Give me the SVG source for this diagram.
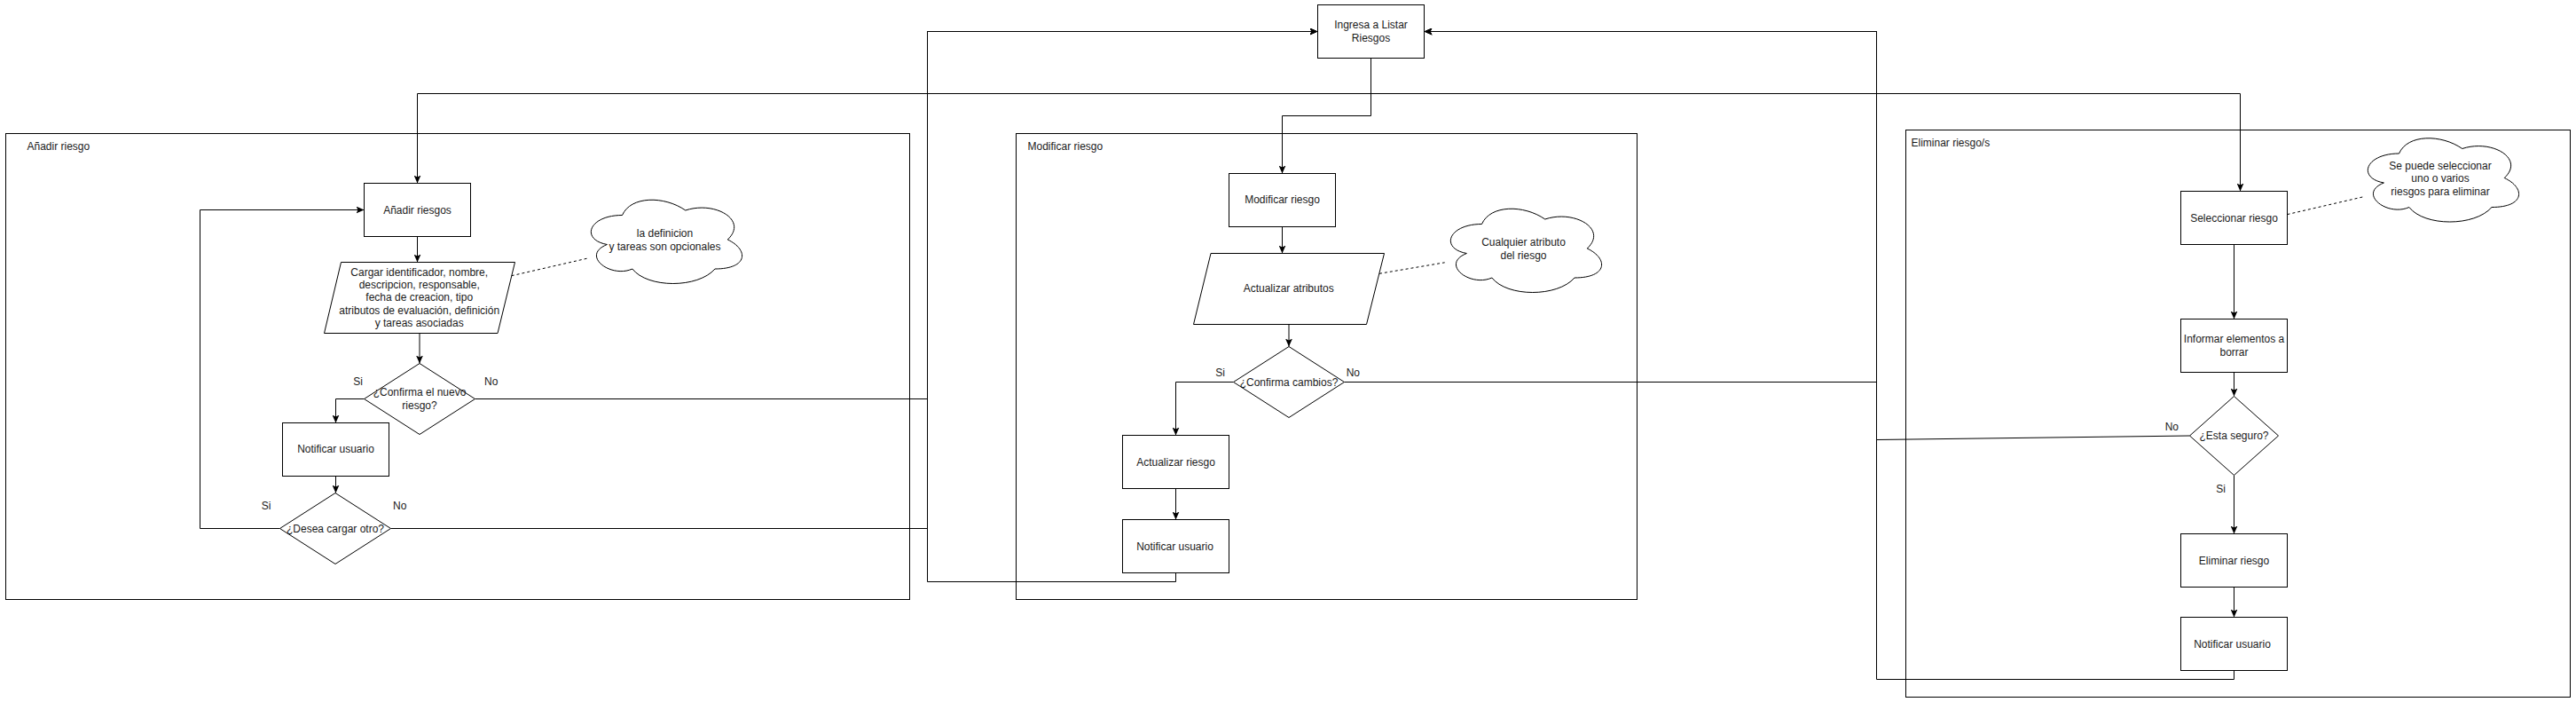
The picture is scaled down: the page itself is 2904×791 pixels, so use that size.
<svg xmlns="http://www.w3.org/2000/svg" xmlns:xlink="http://www.w3.org/1999/xlink" width="2904" height="791" viewBox="0 0 2904 791">
<style>
.box{fill:#fff;stroke:#000;stroke-width:1}
.frame{fill:none;stroke:#000;stroke-width:1}
.cloud{fill:#fff;stroke:#000;stroke-width:1}
.t{font-family:"Liberation Sans",Arial,sans-serif;font-size:12px;fill:#1a1a1a;text-anchor:middle}
.tl{font-family:"Liberation Sans",Arial,sans-serif;font-size:12px;fill:#1a1a1a;text-anchor:start}
.e{fill:none;stroke:#000;stroke-width:1}
.ea{fill:none;stroke:#000;stroke-width:1;marker-end:url(#arr)}
.d{fill:none;stroke:#000;stroke-width:1;stroke-dasharray:3 3}
</style>
<defs>
<marker id="arr" viewBox="0 0 9 8" refX="9" refY="4" markerWidth="9" markerHeight="8" markerUnits="userSpaceOnUse" orient="auto">
<path d="M0,0 L9,4 L0,8 L2,4 Z" fill="#000"/>
</marker>
<path id="cloudshape" d="M47.5,27.5 C9.5,27.5 0,55 30.4,60.5 C0,72.6 34.2,99 58.9,88 C76,110 133,110 152,88 C190,88 190,66 166.25,55 C190,33 152,11 118.75,22 C95,5.5 57,5.5 47.5,27.5 Z"/>
</defs>
<rect width="2904" height="791" fill="#fff"/>

<!-- frames -->
<g id="frame-anadir">
<rect class="frame" x="6.5" y="150.5" width="1019" height="525"/>
<text class="tl" x="30.5" y="169">Añadir riesgo</text>
</g>
<g id="frame-modificar">
<rect class="frame" x="1145.5" y="150.5" width="700" height="525"/>
<text class="tl" x="1158.5" y="169">Modificar riesgo</text>
</g>
<g id="frame-eliminar">
<rect class="frame" x="2148.5" y="146.5" width="749" height="639"/>
<text class="tl" x="2154.5" y="165">Eliminar riesgo/s</text>
</g>

<!-- connectors -->
<g id="connectors">
<path class="ea" d="M1545.5,65.5 V105.5 H470.5 V206.5"/>
<path class="ea" d="M1545.5,65.5 V105.5 H2525.5 V215.5"/>
<path class="ea" d="M1545.5,65.5 V130.5 H1445.5 V195.5"/>
<path class="ea" d="M470.5,266.5 V295.5"/>
<path class="ea" d="M473,375.5 V409.5"/>
<path class="ea" d="M410.5,449.5 H378.5 V476.5"/>
<path class="ea" d="M378.5,536.5 V555.5"/>
<path class="ea" d="M315.5,595.5 H225.5 V236.5 H410.5"/>
<path class="ea" d="M535.5,449.5 H1045.5 V35.5 H1485.5"/>
<path class="ea" d="M440.5,595.5 H1045.5 V35.5 H1485.5"/>
<path class="ea" d="M1445.5,255.5 V285.5"/>
<path class="ea" d="M1453,365.5 V390.5"/>
<path class="ea" d="M1390.5,430.5 H1325.5 V490.5"/>
<path class="ea" d="M1325.5,550.5 V585.5"/>
<path class="ea" d="M1325.5,645.5 V655.5 H1045.5 V35.5 H1485.5"/>
<path class="ea" d="M1515.5,430.5 H2115.5 V35.5 H1605.5"/>
<path class="ea" d="M2518.5,275.5 V359.5"/>
<path class="ea" d="M2518.5,419.5 V446.5"/>
<path class="ea" d="M2518.5,535.5 V601.5"/>
<path class="ea" d="M2468.5,491 L2115.5,495.5 V35.5 H1605.5"/>
<path class="ea" d="M2518.5,661.5 V695.5"/>
<path class="ea" d="M2518.5,755.5 V765.5 H2115.5 V35.5 H1605.5"/>
<path class="d" d="M576.7,310.7 L662.7,291"/>
<path class="d" d="M1555,308.3 L1628.7,295.8"/>
<path class="d" d="M2578.5,241.6 L2663.3,222"/>
<text class="t" x="403.7" y="434">Si</text>
<text class="t" x="553.7" y="434">No</text>
<text class="t" x="300" y="574">Si</text>
<text class="t" x="450.7" y="574">No</text>
<text class="t" x="1375.7" y="424">Si</text>
<text class="t" x="1525.3" y="424">No</text>
<text class="t" x="2448.3" y="485">No</text>
<text class="t" x="2503.7" y="555">Si</text>
</g>

<!-- nodes -->
<g id="ingresa">
<rect class="box" x="1485.5" y="5.5" width="120" height="60"/>
<text class="t" x="1545.5" y="32">Ingresa a Listar</text>
<text class="t" x="1545.5" y="47">Riesgos</text>
</g>

<g id="anadir-riesgos">
<rect class="box" x="410.5" y="206.5" width="120" height="60"/>
<text class="t" x="470.5" y="240.5">Añadir riesgos</text>
</g>
<g id="cargar">
<polygon class="box" points="384.5,295.5 580.5,295.5 561,375.5 365.5,375.5"/>
<text class="t" x="472.7" y="311">Cargar identificador, nombre,</text>
<text class="t" x="472.7" y="325">descripcion, responsable,</text>
<text class="t" x="472.7" y="339">fecha de creacion, tipo</text>
<text class="t" x="472.7" y="353.5">atributos de evaluación, definición</text>
<text class="t" x="472.7" y="367.5">y tareas asociadas</text>
</g>
<g id="confirma-nuevo">
<polygon class="box" points="473,409.5 535.5,449.5 473,489.5 410.5,449.5"/>
<text class="t" x="473" y="446">¿Confirma el nuevo</text>
<text class="t" x="473" y="461">riesgo?</text>
</g>
<g id="notificar-1">
<rect class="box" x="318.5" y="476.5" width="120" height="60"/>
<text class="t" x="378.5" y="510">Notificar usuario</text>
</g>
<g id="desea-otro">
<polygon class="box" points="378,555.5 440.5,595.5 378,635.5 315.5,595.5"/>
<text class="t" x="378" y="599.5">¿Desea cargar otro?</text>
</g>
<g id="nota-1">
<use href="#cloudshape" class="cloud" x="654" y="215"/>
<text class="t" x="749.5" y="267">la definicion</text>
<text class="t" x="749.5" y="282">y tareas son opcionales</text>
</g>

<g id="modificar">
<rect class="box" x="1385.5" y="195.5" width="120" height="60"/>
<text class="t" x="1445.5" y="229">Modificar riesgo</text>
</g>
<g id="actualizar-atributos">
<polygon class="box" points="1365,285.5 1560.5,285.5 1540.5,365.5 1345.5,365.5"/>
<text class="t" x="1452.7" y="329">Actualizar atributos</text>
</g>
<g id="confirma-cambios">
<polygon class="box" points="1453,390.5 1515.5,430.5 1453,470.5 1390.5,430.5"/>
<text class="t" x="1453" y="434.5">¿Confirma cambios?</text>
</g>
<g id="actualizar-riesgo">
<rect class="box" x="1265.5" y="490.5" width="120" height="60"/>
<text class="t" x="1325.5" y="524.5">Actualizar riesgo</text>
</g>
<g id="notificar-2">
<rect class="box" x="1265.5" y="585.5" width="120" height="60"/>
<text class="t" x="1324.5" y="619.5">Notificar usuario</text>
</g>
<g id="nota-2">
<use href="#cloudshape" class="cloud" x="1623" y="225"/>
<text class="t" x="1717.5" y="277">Cualquier atributo</text>
<text class="t" x="1717.5" y="292">del riesgo</text>
</g>

<g id="seleccionar">
<rect class="box" x="2458.5" y="215.5" width="120" height="60"/>
<text class="t" x="2518.5" y="249.5">Seleccionar riesgo</text>
</g>
<g id="informar">
<rect class="box" x="2458.5" y="359.5" width="120" height="60"/>
<text class="t" x="2518.5" y="386">Informar elementos a</text>
<text class="t" x="2518.5" y="401">borrar</text>
</g>
<g id="esta-seguro">
<polygon class="box" points="2518.5,446.5 2568.5,491 2518.5,535.5 2468.5,491"/>
<text class="t" x="2518.5" y="495">¿Esta seguro?</text>
</g>
<g id="eliminar">
<rect class="box" x="2458.5" y="601.5" width="120" height="60"/>
<text class="t" x="2518.5" y="635.5">Eliminar riesgo</text>
</g>
<g id="notificar-3">
<rect class="box" x="2458.5" y="695.5" width="120" height="60"/>
<text class="t" x="2516.5" y="729.5">Notificar usuario</text>
</g>
<g id="nota-3">
<use href="#cloudshape" class="cloud" x="2657" y="145.5"/>
<text class="t" x="2751" y="191">Se puede seleccionar</text>
<text class="t" x="2751" y="205">uno o varios</text>
<text class="t" x="2751" y="220">riesgos para eliminar</text>
</g>
</svg>
